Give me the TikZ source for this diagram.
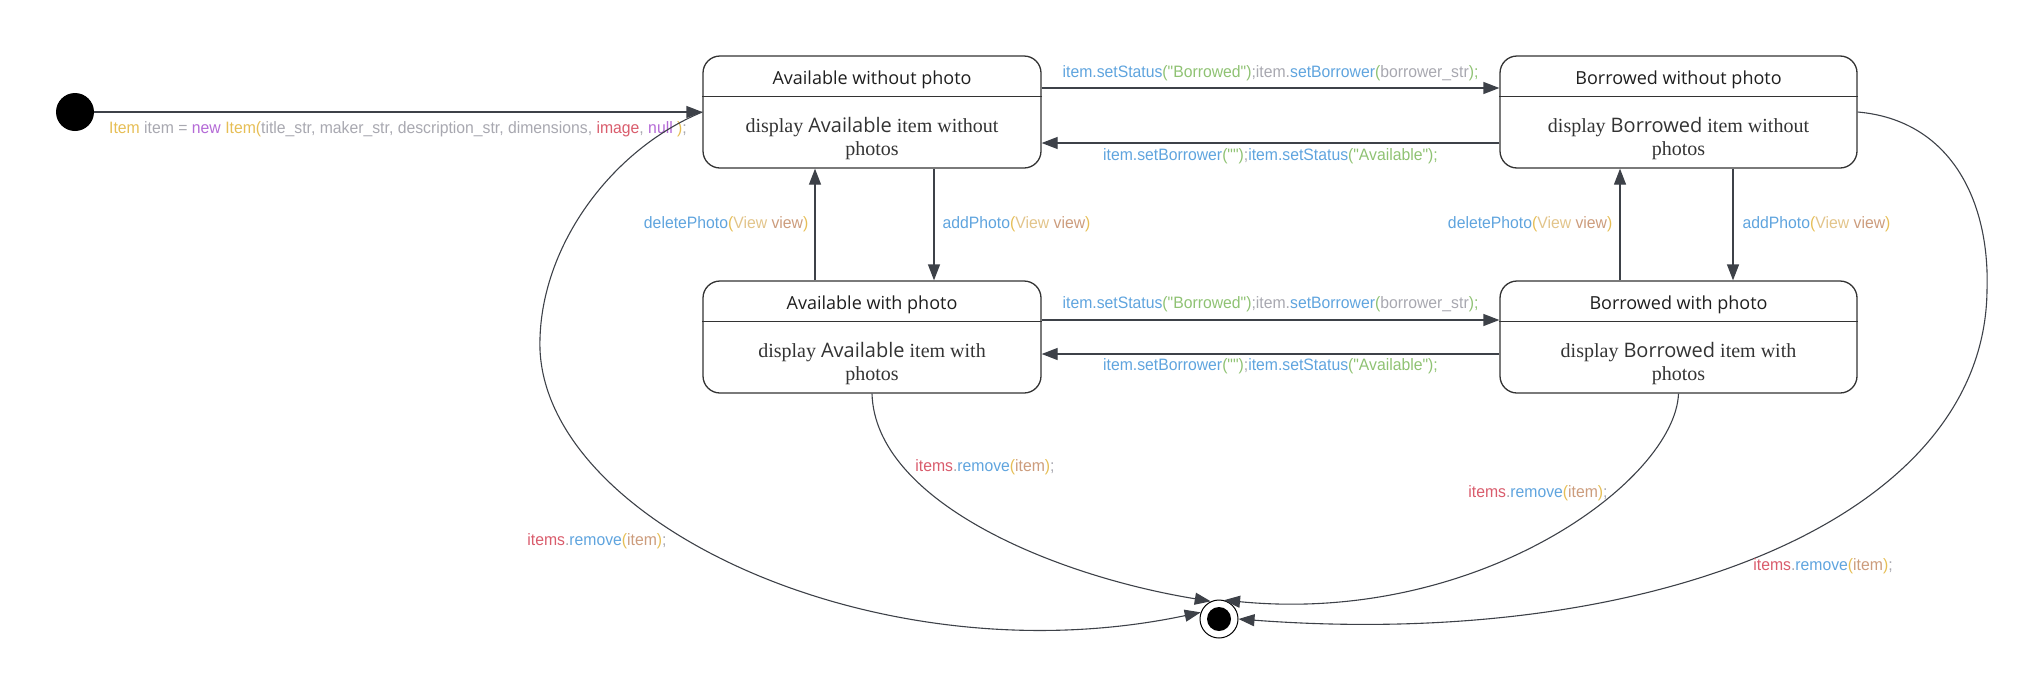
\documentclass[tikz,border=0pt]{standalone}
\usepackage{fontspec}
\setmainfont{Liberation Serif}
\newfontfamily\ttlfont{Open Sans}
\newfontfamily\lblfont[FakeStretch=0.955]{Liberation Sans}
\usetikzlibrary{arrows.meta,calc}
\definecolor{kblue}{HTML}{5FA4DE}
\definecolor{kgreen}{HTML}{8FC273}
\definecolor{kgray}{HTML}{A8A8B0}
\definecolor{kyel}{HTML}{E6BE55}
\definecolor{kview}{HTML}{E2C48A}
\definecolor{ktan}{HTML}{CC9C7C}
\definecolor{kpurp}{HTML}{B46AD6}
\definecolor{kred}{HTML}{D95C6C}
\definecolor{linec}{HTML}{3D4148}
\definecolor{boxc}{HTML}{333333}
\definecolor{bodyc}{HTML}{333333}
\newcommand\kb[1]{\textcolor{kblue}{#1}}
\newcommand\kg[1]{\textcolor{kgreen}{#1}}
\newcommand\kgr[1]{\textcolor{kgray}{#1}}
\newcommand\ky[1]{\textcolor{kyel}{#1}}
\newcommand\kv[1]{\textcolor{kview}{#1}}
\newcommand\kt[1]{\textcolor{ktan}{#1}}
\newcommand\kp[1]{\textcolor{kpurp}{#1}}
\newcommand\kr[1]{\textcolor{kred}{#1}}
\newcommand\removelbl{\kr{items}\kgr{.}\kb{remove}\ky{(}\kt{item}\ky{)}\kgr{;}}
\begin{document}
\begin{tikzpicture}[x=1pt,y=-1pt,
  statebox/.style={draw=boxc, line width=1.3pt, rounded corners=17pt,
    minimum width=338pt, minimum height=112pt, inner sep=0pt},
  wstatebox/.style={statebox, minimum width=357pt},
  divider/.style={draw=boxc, line width=1.3pt},
  ttl/.style={font=\ttlfont\fontsize{18}{22}\selectfont, text=black!88, inner sep=0pt},
  body/.style={font=\fontsize{20}{23}\selectfont, text=bodyc, align=center, inner sep=0pt},
  lbl/.style={font=\lblfont\fontsize{16.5}{19}\selectfont, inner sep=0pt},
  conn/.style={draw=linec, line width=1.3pt, -{Triangle[length=16pt,width=12pt]}},
  curve/.style={draw=linec, line width=1.1pt, -{Triangle[length=16pt,width=12pt]}}]
\useasboundingbox (0,0) rectangle (2031,694);

% states
\node[circle, fill=black, minimum size=38pt, inner sep=0pt] (I) at (75,112) {};
\node[statebox] (A1) at (872,112) {};
\node[wstatebox] (B1) at (1678.5,112) {};
\node[statebox] (A2) at (872,337) {};
\node[wstatebox] (B2) at (1678.5,337) {};
\node[circle, draw=black, line width=1pt, minimum size=38pt, inner sep=0pt] (F) at (1219,619) {};
\node[circle, fill=black, minimum size=24pt, inner sep=0pt] (Fi) at (F.center) {};

\foreach \s in {A1,B1,A2,B2}{
  \draw[divider] ($(\s.north west)+(0,41)$) -- ($(\s.north east)+(0,41)$);
}
\node[ttl] (A1t) at ($(A1.north)+(0,24)$) {Available without photo};
\node[ttl] (B1t) at ($(B1.north)+(0,24)$) {Borrowed without photo};
\node[ttl] (A2t) at ($(A2.north)+(0,24)$) {Available with photo};
\node[ttl] (B2t) at ($(B2.north)+(0,24)$) {Borrowed with photo};
\node[body] (A1b) at ($(A1.center)+(0,27)$) {display {\ttlfont Available} item without\\photos};
\node[body] (B1b) at ($(B1.center)+(0,27)$) {display {\ttlfont Borrowed} item without\\photos};
\node[body] (A2b) at ($(A2.center)+(0,27)$) {display {\ttlfont Available} item with\\photos};
\node[body] (B2b) at ($(B2.center)+(0,27)$) {display {\ttlfont Borrowed} item with\\photos};

% initial transition
\draw[conn] (I) -- (A1.west);
\node[lbl] (L0) at (398,129) {\ky{Item} \kgr{item =} \kp{new} \ky{Item(}\kgr{title\_str, maker\_str, description\_str, dimensions,} \kr{image}\kgr{,} \kp{null} \ky{)}\kgr{;}};

% horizontal transitions
\draw[conn] ($(A1.east)+(0,-24)$) -- node[lbl, yshift=15pt] (L1) {\kb{item.setStatus}\kg{("Borrowed")}\kgr{;item.}\kb{setBorrower}\kg{(}\kgr{borrower\_str}\kg{);}} ($(B1.west)+(0,-24)$);
\draw[conn] ($(B1.west)+(0,31)$) -- node[lbl, yshift=-13pt] (L2) {\kb{item.setBorrower}\kg{("")}\kgr{;}\kb{item.setStatus}\kg{("Available");}} ($(A1.east)+(0,31)$);
\draw[conn] ($(A2.east)+(0,-17)$) -- node[lbl, yshift=16pt] (L3) {\kb{item.setStatus}\kg{("Borrowed")}\kgr{;item.}\kb{setBorrower}\kg{(}\kgr{borrower\_str}\kg{);}} ($(B2.west)+(0,-17)$);
\draw[conn] ($(B2.west)+(0,17)$) -- node[lbl, yshift=-12pt] (L4) {\kb{item.setBorrower}\kg{("")}\kgr{;}\kb{item.setStatus}\kg{("Available");}} ($(A2.east)+(0,17)$);

% vertical transitions
\draw[conn] ($(A2.north)+(-57,0)$) -- node[lbl, anchor=east, xshift=-6pt] (L5) {\kb{deletePhoto}\ky{(}\kv{View} \kt{view}\ky{)}} ($(A1.south)+(-57,0)$);
\draw[conn] ($(A1.south)+(62,0)$) -- node[lbl, anchor=west, xshift=8pt] (L6) {\kb{addPhoto}\ky{(}\kv{View} \kt{view}\ky{)}} ($(A2.north)+(62,0)$);
\draw[conn] ($(B2.north)+(-58.5,0)$) -- node[lbl, anchor=east, xshift=-7pt] (L7) {\kb{deletePhoto}\ky{(}\kv{View} \kt{view}\ky{)}} ($(B1.south)+(-58.5,0)$);
\draw[conn] ($(B1.south)+(54.5,0)$) -- node[lbl, anchor=west, xshift=9pt] (L8) {\kb{addPhoto}\ky{(}\kv{View} \kt{view}\ky{)}} ($(B2.north)+(54.5,0)$);

% transitions to the final state
\draw[curve] (A1.west) .. controls (610,150) and (537,250) .. (540,350)
  .. controls (548,525) and (880,680) .. (F.160);
\draw[curve] (A2.south) .. controls (875,500) and (1050,575) .. (F.115);
\draw[curve] (B2.south) .. controls (1675,480) and (1480,625) .. (F.75);
\draw[curve] (B1.east) .. controls (1950,120) and (1990,200) .. (1987,290)
  .. controls (1985,520) and (1650,650) .. (F.east);

\node[lbl] (R1) at (597,541) {\removelbl};
\node[lbl] (R2) at (985,467) {\removelbl};
\node[lbl] (R3) at (1538,493) {\removelbl};
\node[lbl] (R4) at (1823,566) {\removelbl};
\end{tikzpicture}
\end{document}
